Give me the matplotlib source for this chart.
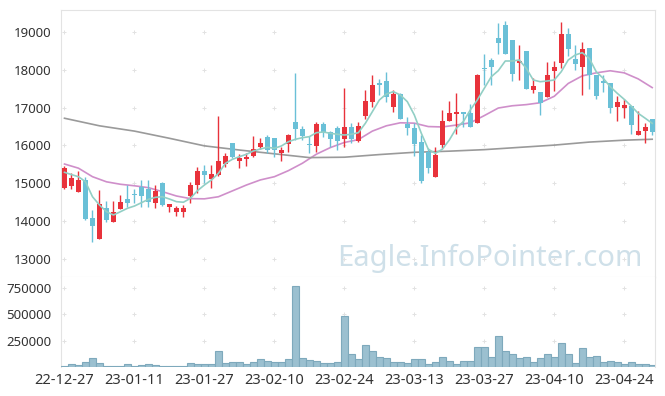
import numpy as np
import matplotlib
matplotlib.use("Agg")
import matplotlib.pyplot as plt

plt.rcParams['font.family'] = ['Noto Sans', 'DejaVu Sans']

# OHLC, index 0 = 22-12-27
opens = [14885, 14937, 14779, 15088, 14084, 13537, 14340, 13986, 14322, 14586,
         14700, 14910, 14850, 14480, 15009, 14380, 14234, 14234, 14673, 14948,
         15326, 15114, 15220, 15519, 16066, 15590, 15650, 15730, 15960, 16230,
         16190, 15800, 16040, 16630, 16430, 16030, 15995, 16568, 16365, 16460,
         16170, 16490, 16120, 16780, 17157, 17650, 17700, 17010, 17360, 16570,
         16460, 16100, 15820, 15175, 16000, 16650, 16830, 16885, 16850, 16600,
         18060, 18260, 18840, 19185, 18790, 18190, 18500, 17470, 17420, 17270,
         17980, 18190, 18950, 18275, 18070, 18570, 17860, 17700, 17640, 17025,
         17000, 17050, 16285, 16395, 16700]
closes = [15397, 15149, 15088, 14057, 13872, 14454, 14031, 14242, 14507, 14480,
          14680, 14670, 14515, 14790, 14435, 14454, 14348, 14348, 14956, 15326,
          15220, 15247, 15590, 15730, 15704, 15670, 15704, 15900, 16066, 15880,
          15880, 15890, 16280, 16444, 16260, 16010, 16568, 16350, 16180, 16127,
          16490, 16180, 16515, 17180, 17600, 17610, 17290, 17360, 16710, 16470,
          16050, 15060, 15410, 15750, 16650, 16860, 16885, 16840, 16500, 17860,
          18020, 18080, 18710, 18410, 17880, 18240, 17485, 17570, 17115, 17860,
          18085, 18950, 18545, 18145, 18545, 17860, 17310, 17640, 17000, 17140,
          17060, 16540, 16375, 16500, 16365]
highs = [15450, 15281, 15334, 15160, 14295, 14824, 14533, 14533, 14684, 14956,
         14842, 15080, 15088, 14956, 15030, 14454, 14400, 14427, 15043, 15424,
         15484, 15493, 16780, 15800, 16066, 15775, 15800, 16250, 16190, 16280,
         16190, 15970, 16300, 17907, 16515, 16250, 16620, 16620, 16380, 16515,
         17510, 16590, 16630, 17467, 17860, 17755, 17950, 17470, 17400, 16760,
         16600, 16280, 15925, 15970, 16940, 17175, 17380, 16885, 17100, 17880,
         18410, 18300, 19230, 19290, 18790, 18650, 18500, 17775, 17420, 18200,
         18230, 19270, 19100, 18650, 18730, 18570, 17860, 17860, 17640, 17310,
         17220, 17050, 16920, 16590, 16700]
lows = [14860, 14842, 14779, 14040, 13436, 13537, 13986, 13986, 14322, 14382,
        14490, 14382, 14365, 14340, 14400, 14250, 14130, 14120, 14490, 14736,
        15016, 14870, 15200, 15440, 15680, 15397, 15460, 15700, 15900, 15810,
        15700, 15600, 15820, 16150, 16145, 15795, 15830, 16215, 15950, 15880,
        15950, 16060, 16100, 16700, 17025, 17330, 17160, 16880, 16710, 16270,
        15730, 15020, 15280, 15175, 15925, 16650, 16300, 16500, 16480, 16600,
        17600, 17600, 18410, 18410, 17700, 17730, 17485, 17380, 16800, 17270,
        17440, 18040, 18370, 17990, 17335, 17490, 17220, 17420, 16850, 16650,
        16720, 16300, 16285, 16060, 16280]
volumes = [6000, 25000, 16000, 44000, 82000, 35000, 6000, 6000, 6000, 25000,
           6000, 16000, 25000, 16000, 6000, 5000, 5000, 6000, 35000, 25000,
           25000, 25000, 149000, 35000, 44000, 44000, 25000, 44000, 73000, 54000,
           44000, 44000, 73000, 766000, 82000, 63000, 54000, 35000, 35000, 44000,
           481000, 120000, 73000, 206000, 152000, 92000, 82000, 44000, 44000, 35000,
           73000, 73000, 25000, 44000, 92000, 54000, 25000, 54000, 54000, 187000,
           187000, 92000, 291000, 149000, 120000, 82000, 92000, 44000, 82000, 120000,
           92000, 225000, 120000, 35000, 177000, 92000, 101000, 44000, 54000, 44000,
           25000, 44000, 25000, 25000, 16000]

# moving averages
ma5 = [15291, 15230, 15175, 15043, 14646, 14427, 14250, 14163, 14250, 14340,
       14400, 14488, 14578, 14630, 14646, 14585, 14515, 14500, 14604, 14805,
       14956, 15088, 15264, 15528, 15635, 15704, 15767, 15855, 15907, 15952,
       15926, 15987, 16100, 16164, 16206, 16233, 16338, 16357, 16322, 16296,
       16277, 16296, 16338, 16586, 16893, 17202, 17361, 17422, 17335, 17158,
       16806, 16322, 15900, 15793, 15900, 16145, 16455, 16630, 16938, 17202,
       17511, 17818, 17977, 18233, 18233, 18260, 18040, 17731, 17686, 17705,
       17731, 17950, 18260, 18392, 18453, 18304, 17950, 17775, 17555, 17380,
       17220, 17044, 16850, 16720, 16586]
ma20_idx = list(range(0, 85, 2))
ma20 = [15510, 15400, 15175, 15040, 14975, 14935, 14885, 14780, 14665, 14595,
        14590, 14645, 14800, 14955, 15090, 15175, 15335, 15530, 15770, 15945,
        16080, 16155, 16380, 16520, 16600, 16590, 16500, 16490, 16540, 16600,
        16790, 16990, 17050, 17080, 17130, 17300, 17640, 17840, 17920, 17975,
        17920, 17760, 17530]
ma_long_idx = [0, 5, 10, 15, 20, 25, 30, 35, 40, 45, 50, 55, 60, 65, 70, 75, 80, 84]
ma_long = [16720, 16520, 16380, 16190, 15990, 15880, 15780, 15680, 15690, 15760,
           15820, 15850, 15890, 15950, 16010, 16090, 16140, 16165]

tick_pos = [0, 10, 20, 30, 40, 50, 60, 70, 80]
tick_labels = ['22-12-27', '23-01-11', '23-01-27', '23-02-10', '23-02-24',
               '23-03-13', '23-03-27', '23-04-10', '23-04-24']
price_ticks = [13000, 14000, 15000, 16000, 17000, 18000, 19000]
vol_ticks = [250000, 500000, 750000]

UP = '#e8323b'
DOWN = '#6ac0d7'
SPINE = '#e3e3e3'

fig = plt.figure(figsize=(6.65, 3.96), dpi=100)
ax = fig.add_axes([61 / 665, 119 / 396, 594 / 665, 267 / 396])
axv = fig.add_axes([61 / 665, 29 / 396, 594 / 665, 90 / 396], sharex=ax)

x = np.arange(len(opens))
o = np.array(opens)
c = np.array(closes)
up = c >= o
colors = np.where(up, UP, DOWN)

# candles
ax.vlines(x, lows, highs, colors=colors, linewidth=1, zorder=3)
body_low = np.minimum(o, c)
body_h = np.maximum(np.abs(c - o), 25)
ax.bar(x, body_h, bottom=body_low, width=0.7, color=colors, linewidth=0, zorder=4)

# moving averages
ax.plot(x, ma5, color='#92cfc5', linewidth=1.2, zorder=5)
ax.plot(ma20_idx, ma20, color='#cf8fca', linewidth=1.2, zorder=2)
ax.plot(ma_long_idx, ma_long, color='#9a9a9a', linewidth=1.2, zorder=2)

# volume
axv.bar(x, volumes, width=1.0, color='#9bc0d0', edgecolor='#7ea9bc', linewidth=0.8, zorder=3)

ax.set_xlim(-0.5, 84.4)
ax.set_ylim(12524, 19581)
axv.set_ylim(0, 855000)

# plus-shaped grid marks
for a, yt in ((ax, price_ticks), (axv, vol_ticks)):
    gx, gy = np.meshgrid(tick_pos, yt)
    a.scatter(gx.ravel(), gy.ravel(), marker='+', s=10, color='#e2e2e2', linewidths=0.7, zorder=1)
    a.set_yticks(yt)
    a.tick_params(axis='y', length=0, pad=7, labelsize=9.5, labelcolor='#333333')
    for s in a.spines.values():
        s.set_color(SPINE)

ax.set_yticklabels([str(v) for v in price_ticks])
axv.set_yticklabels([str(v) for v in vol_ticks])
ax.tick_params(axis='x', length=0, labelbottom=False)
axv.set_xticks(tick_pos)
axv.set_xticklabels(tick_labels)
axv.tick_params(axis='x', length=0, pad=4, labelsize=10.5, labelcolor='#333333')
axv.spines['bottom'].set_visible(False)
axv.spines['top'].set_visible(False)

ax.text(0.7214, 0.068, 'Eagle.InfoPointer.com', transform=ax.transAxes,
        ha='center', va='center', fontsize=21, color='#cfe0e9', zorder=0)

fig.savefig('out.png', dpi=100)
